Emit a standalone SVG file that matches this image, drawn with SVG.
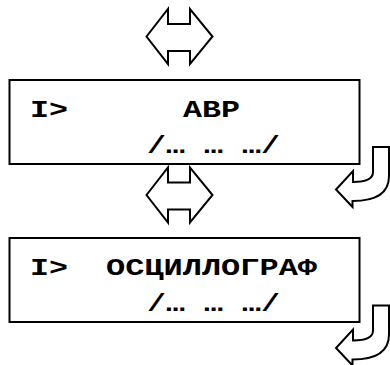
<svg xmlns="http://www.w3.org/2000/svg" width="390" height="365" viewBox="0 0 390 365">
<style>
.box{fill:#fff;stroke:#000;stroke-width:2}
.arr{fill:#fff;stroke:#000;stroke-width:2;stroke-linejoin:miter}
.t{font-family:"Liberation Mono","Courier New",monospace;font-weight:bold;font-size:23px;fill:#000}
</style>
<defs>
<polygon id="lr" points="146.5,36.5 168,9 168,24 190,24 190,9 212.5,36.5 190,64 190,51 168,51 168,64"/>
<path id="bend" d="M373,147 L373,172 Q373,182 353,182 L353,171 L336,189.5 L352.5,207 L352.5,201 Q389,201 389,176 L389,147 Z"/>
</defs>
<rect width="390" height="365" fill="#fff"/>
<g id="node-avr">
<rect class="box" x="9.5" y="80" width="350" height="84"/>
<text class="t" x="30" y="117" textLength="38" lengthAdjust="spacingAndGlyphs">I&gt;</text>
<text class="t" x="183" y="117" textLength="57" lengthAdjust="spacingAndGlyphs">АВР</text>
<text class="t" x="147" y="153" textLength="133" lengthAdjust="spacingAndGlyphs">/… … …/</text>
</g>
<g id="node-osc">
<rect class="box" x="9.5" y="238" width="350" height="84"/>
<text class="t" x="30" y="275" textLength="38" lengthAdjust="spacingAndGlyphs">I&gt;</text>
<text class="t" x="106" y="275" textLength="211" lengthAdjust="spacingAndGlyphs">ОСЦИЛЛОГРАФ</text>
<text class="t" x="147" y="311" textLength="133" lengthAdjust="spacingAndGlyphs">/… … …/</text>
</g>
<g id="connectors">
<use href="#lr" class="arr"/>
<use href="#lr" class="arr" transform="translate(0,158.5)"/>
<use href="#bend" class="arr"/>
<use href="#bend" class="arr" transform="translate(0,158.5)"/>
</g>
</svg>
